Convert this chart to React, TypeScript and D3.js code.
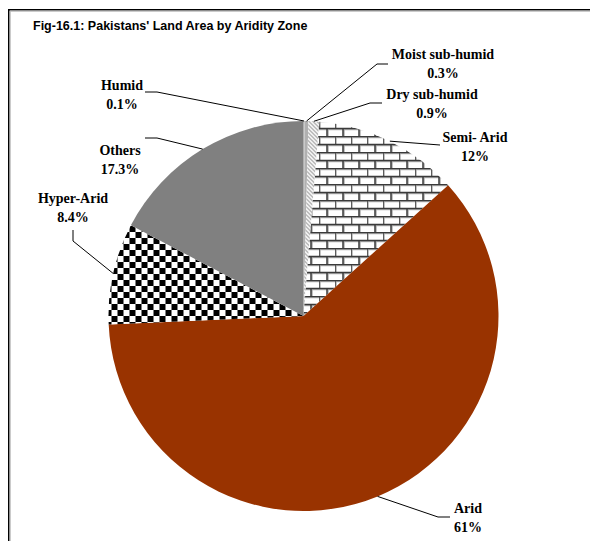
import { useEffect } from "react";
import * as d3 from "d3";

// Pakistan land area by aridity zone (percent of total)
const zones = ["Humid", "Moist sub-humid", "Dry sub-humid", "Semi- Arid", "Arid", "Hyper-Arid", "Others"];
const shares = [0.1, 0.3, 0.9, 12, 61, 8.4, 17.3];
const shareLabels = ["0.1%", "0.3%", "0.9%", "12%", "61%", "8.4%", "17.3%"];
const fills = ["#c4c4c4", "#b0b0b0", "url(#hatch)", "url(#brick)", "#993300", "url(#checker)", "#808080"];

// label layout: text centre / first baseline, and the leader path from the label back to the slice
const labelPos: [number, number][] = [
    [122, 90], [443, 59], [432, 99], [475, 142], [468, 513], [73, 203], [120, 155],
];
const leaderPts: [number, number][][] = [
    [[145, 92], [157, 92]],
    [[388, 64], [377, 64]],
    [[382, 103], [370, 103]],
    [[440, 145]],
    [[450, 517], [438, 517]],
    [[73, 230], [73, 241]],
    [[145, 138], [157, 138]],
];

const W = 590;
const H = 541;
const cx = 303.5;
const cy = 316;
const R = 195;

export default function App() {
    useEffect(() => {
        document.body.style.margin = "0";
        document.body.style.overflow = "hidden";
    }, []);

    const pie = d3.pie<number>().sort(null).value((d) => d);
    const arcs = pie(shares);
    const arc = d3.arc<d3.PieArcDatum<number>>().innerRadius(0).outerRadius(R);
    const line = d3.line();

    return (
        <svg width={W} height={H} style={{ display: "block" }}>
            <defs>
                <pattern id="hatch" width="4" height="4" patternUnits="userSpaceOnUse">
                    <rect width="4" height="4" fill="#fff" />
                    <path d="M-1,-1 L5,5 M-1,3 L1,5 M3,-1 L5,1" stroke="#9a9a9a" strokeWidth="1.2" />
                </pattern>
                <pattern id="brick" width="16" height="16" patternUnits="userSpaceOnUse" x={cx} y={cy}>
                    <rect width="16" height="16" fill="#fff" />
                    <path d="M0,1.5 H16 M0,9.5 H16 M1,1.5 V9.5 M9,9.5 V17.5" stroke="#b0b0b0" strokeWidth="1.5" />
                    <path d="M0,0.5 H16 M0,8.5 H16 M0,0 V8.5 M8,8.5 V16" stroke="#3a3a3a" strokeWidth="1.5" />
                </pattern>
                <pattern id="checker" width="12" height="12" patternUnits="userSpaceOnUse">
                    <rect width="12" height="12" fill="#fff" />
                    <rect width="6" height="6" fill="#000" />
                    <rect x="6" y="6" width="6" height="6" fill="#000" />
                </pattern>
            </defs>

            <rect x={0} y={0} width={W} height={H} fill="#fff" />
            <rect x={8.75} y={9.75} width={W + 40} height={H + 40} fill="none" stroke="#000" strokeWidth={1.5} />
            <path d={`M10,11.25 H${W} M10.25,11 V${H}`} stroke="#bbb" strokeWidth={1} />

            <text x={33} y={30} fontFamily="'Liberation Sans', Arial, sans-serif" fontWeight="bold" fontSize={12.5}>
                Fig-16.1: Pakistans' Land Area by Aridity Zone
            </text>

            <g transform={`translate(${cx},${cy})`}>
                {arcs.map((a, i) => (
                    <path key={zones[i]} d={arc(a) ?? ""} fill={fills[i]} />
                ))}
            </g>

            {arcs.map((a, i) => {
                const mid = (a.startAngle + a.endAngle) / 2;
                const edge: [number, number] = [cx + R * Math.sin(mid), cy - R * Math.cos(mid)];
                const pts = [...leaderPts[i], edge];
                const [lx, ly] = labelPos[i];
                const stubGray = zones[i] === "Arid";
                return (
                    <g key={zones[i]}>
                        <path d={line(pts) ?? ""} fill="none" stroke="#000" strokeWidth={1} />
                        {stubGray && (
                            <path d={line(leaderPts[i]) ?? ""} fill="none" stroke="#808080" strokeWidth={1.5} />
                        )}
                        <text
                            x={lx}
                            y={ly}
                            textAnchor="middle"
                            fontFamily="'Liberation Serif', 'Times New Roman', serif"
                            fontWeight="bold"
                            fontSize={14}
                        >
                            <tspan x={lx}>{zones[i]}</tspan>
                            <tspan x={lx} dy={19}>{shareLabels[i]}</tspan>
                        </text>
                    </g>
                );
            })}
        </svg>
    );
}
